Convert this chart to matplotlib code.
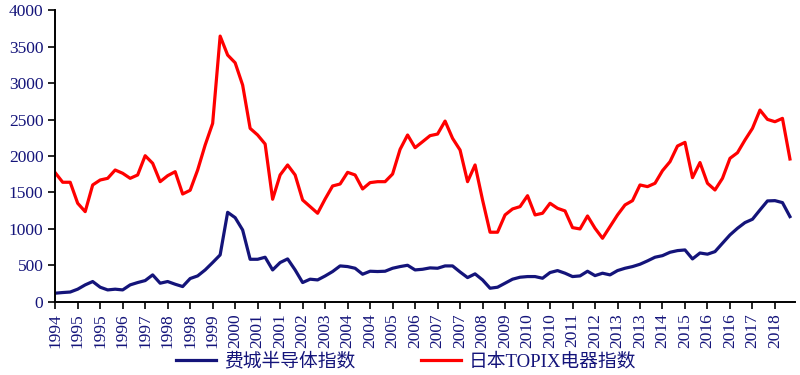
import matplotlib
matplotlib.use("Agg")
import matplotlib.pyplot as plt

# --- 1) Quarterly index values (read off the chart) ---
sox = [
    119, 128, 135, 174, 233, 279, 201, 164, 174, 164,
    233, 265, 292, 370, 256, 279, 242, 210, 320, 356,
    438, 539, 644, 1228, 1155, 986, 584, 584, 612, 438,
    539, 589, 438, 265, 311, 301, 355, 416, 493, 484,
    461, 379, 420, 416, 420, 461, 484, 502, 438, 447,
    466, 461, 493, 493, 410, 333, 384, 301, 187, 201,
    256, 311, 338, 347, 347, 324, 402, 429, 393, 347,
    356, 420, 360, 393, 370, 429, 461, 484, 516, 562,
    612, 634, 680, 703, 712, 589, 670, 654, 689, 804,
    918, 1009, 1087, 1133, 1260, 1384, 1388, 1361, 1169,
]
topix = [
    1771, 1640, 1640, 1352, 1237, 1603, 1671, 1694, 1808, 1763,
    1694, 1740, 2004, 1900, 1648, 1730, 1785, 1479, 1530, 1808,
    2150, 2447, 3644, 3384, 3278, 2973, 2379, 2288, 2164, 1407,
    1740, 1877, 1740, 1397, 1306, 1215, 1410, 1589, 1616, 1776,
    1740, 1548, 1635, 1648, 1648, 1753, 2091, 2288, 2114, 2196,
    2279, 2301, 2479, 2242, 2082, 1648, 1877, 1397, 955, 955,
    1192, 1274, 1306, 1456, 1192, 1215, 1352, 1283, 1247, 1018,
    1000, 1178, 1009, 872, 1032, 1192, 1329, 1388, 1603, 1580,
    1626, 1799, 1922, 2137, 2187, 1703, 1910, 1626, 1534, 1694,
    1968, 2045, 2219, 2379, 2630, 2502, 2470, 2516, 1959,
]
# label shown every third quarter
tick_labels = [
    "1994", "1995", "1995", "1996", "1997", "1998", "1998", "1999",
    "2000", "2001", "2001", "2002", "2003", "2004", "2004", "2005",
    "2006", "2007", "2007", "2008", "2009", "2010", "2010", "2011",
    "2012", "2013", "2013", "2014", "2015", "2016", "2016", "2017",
    "2018",
]
sox_name = "费城半导体指数"
topix_name = "日本TOPIX电器指数"

navy = "#14147a"
red = "#ff0000"

# --- 2) Plot ---
fig = plt.figure(figsize=(8, 3.75), dpi=100)
ax = fig.add_axes([0.069, 0.195, 0.925, 0.778])

x = list(range(len(sox)))
ax.plot(x, sox, color=navy, linewidth=2.3, label=sox_name)
ax.plot(x, topix, color=red, linewidth=2.3, label=topix_name)

ax.set_xlim(0, len(sox) - 0.3)
ax.set_ylim(0, 4000)
ax.set_yticks(range(0, 4001, 500))
ax.set_yticklabels([str(v) for v in range(0, 4001, 500)],
                   family="Liberation Serif")
ax.set_xticks(range(0, 3 * len(tick_labels), 3))
ax.set_xticklabels(tick_labels, rotation=90, family="Liberation Serif")

for side in ["top", "right"]:
    ax.spines[side].set_visible(False)
for side in ["left", "bottom"]:
    ax.spines[side].set_linewidth(1.4)
ax.tick_params(axis="both", direction="out", length=5, width=1.2,
               labelsize=12.5, labelcolor=navy)
ax.tick_params(axis="x", pad=3)

# --- 3) Legend under the chart ---
leg = fig.legend(loc="center", bbox_to_anchor=(0.508, 0.035), ncol=2,
                 frameon=False, handlelength=2.1, handletextpad=0.45,
                 columnspacing=3.5,
                 prop={"family": ["Liberation Serif", "Noto Sans CJK SC"],
                       "size": 13.5})
for t in leg.get_texts():
    t.set_color(navy)

fig.savefig("out.png", dpi=100)
